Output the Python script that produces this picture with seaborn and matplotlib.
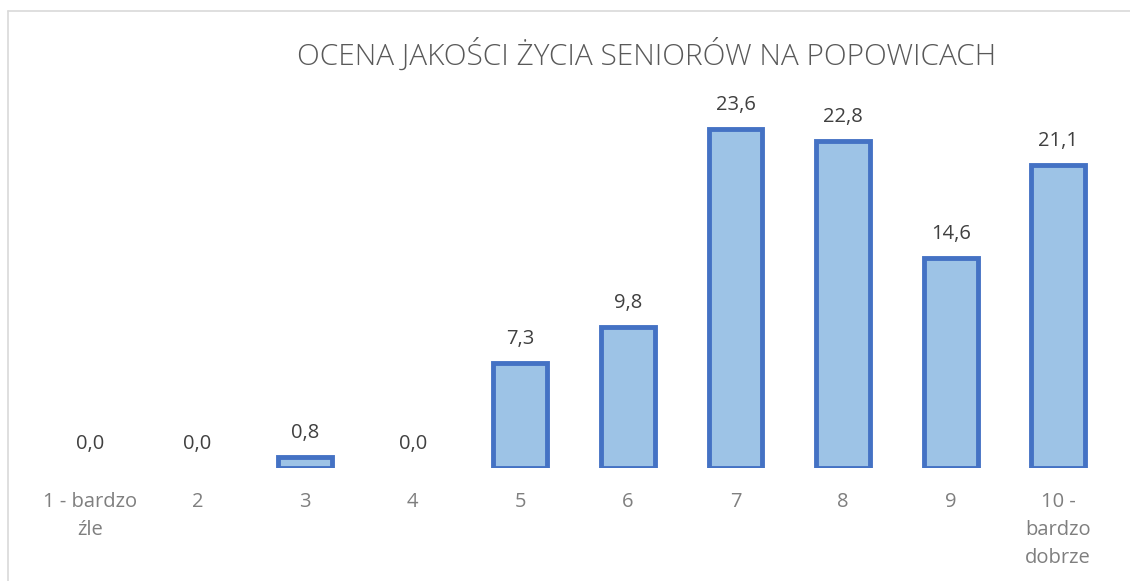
import pandas as pd
import matplotlib.pyplot as plt
import seaborn as sns
from matplotlib.lines import Line2D

# Data
categories = ['1 - bardzo\nźle', '2', '3', '4', '5', '6', '7', '8', '9', '10 -\nbardzo\ndobrze']
values = [0.0, 0.0, 0.8, 0.0, 7.3, 9.8, 23.6, 22.8, 14.6, 21.1]
title = 'OCENA JAKOŚCI ŻYCIA SENIORÓW NA POPOWICACH'

df = pd.DataFrame({'ocena': categories, 'procent': values})

sns.set_theme(style='white')
plt.rcParams['font.family'] = ['Open Sans', 'DejaVu Sans']

fig = plt.figure(figsize=(11.3, 5.81), dpi=100)
ax = fig.add_axes([0.0319, 0.1945, 0.9522, 0.6179])

sns.barplot(data=df, x='ocena', y='procent', ax=ax, width=0.5,
            color='#9DC3E6', edgecolor='#4472C4', linewidth=3.5, saturation=1)

# Excel does not draw zero-height bars
for p in ax.patches:
    if p.get_height() == 0:
        p.set_linewidth(0)

ax.set_ylim(0, 25)
ax.set_xlim(-0.5, len(categories) - 0.5)
labels = [f'{v:.1f}'.replace('.', ',') for v in values]
ax.bar_label(ax.containers[0], labels=labels, padding=10, fontsize=14.5, color='#404040')

ax.set_xlabel('')
ax.set_ylabel('')
ax.set_yticks([])
ax.tick_params(axis='x', length=0, pad=17, labelsize=14.5, labelcolor='#7F7F7F')
for lbl in ax.get_xticklabels():
    lbl.set_verticalalignment('top')
    lbl.set_linespacing(1.55)
sns.despine(ax=ax, left=True, bottom=True)

fig.text(0.572, 0.905, title, ha='center', va='center', fontsize=21.4,
         color='#595959', fontweight='light')

# chart frame (only top and left edges visible)
fig.add_artist(Line2D([8 / 1130, 1], [1 - 11 / 581, 1 - 11 / 581],
                      transform=fig.transFigure, color='#D9D9D9', lw=1.2))
fig.add_artist(Line2D([8 / 1130, 8 / 1130], [0, 1 - 11 / 581],
                      transform=fig.transFigure, color='#D9D9D9', lw=1.2))

fig.savefig('out.png', dpi=100)
